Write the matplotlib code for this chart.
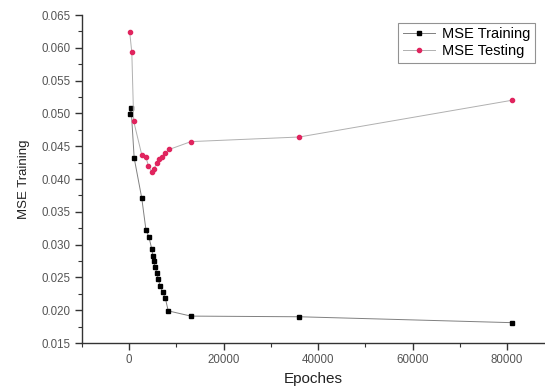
import matplotlib
matplotlib.use("Agg")
import matplotlib.pyplot as plt
from matplotlib.ticker import MultipleLocator

plt.rcParams['font.family'] = ['Liberation Sans', 'DejaVu Sans']

train_epochs = [150, 450, 1100, 2700, 3600, 4200, 4800, 5100, 5300, 5500,
                5900, 6200, 6600, 7100, 7700, 8300, 13100, 36000, 81000]
train_mse = [0.0499, 0.0508, 0.0432, 0.0371, 0.0322, 0.0312, 0.0294, 0.0282,
             0.0275, 0.0266, 0.0257, 0.0247, 0.0237, 0.0228, 0.0218, 0.0199,
             0.0191, 0.0190, 0.0181]

test_epochs = [150, 600, 1000, 2700, 3600, 4100, 4800, 5300, 5900, 6400,
               6900, 7600, 8500, 13100, 36000, 81000]
test_mse = [0.0624, 0.0593, 0.0488, 0.0437, 0.0433, 0.0420, 0.0411, 0.0416,
            0.0424, 0.0430, 0.0434, 0.0439, 0.0445, 0.0457, 0.0464, 0.0520]

fig = plt.figure(figsize=(5.45, 3.86), dpi=100)
ax = fig.add_axes([81.7/545, 1-343/386, 1-81.7/545, (343-15)/386])

ax.plot(train_epochs, train_mse, color='#808080', lw=0.7, marker='s',
        markersize=2.8, markerfacecolor='black', markeredgecolor='black',
        label='MSE Training')
ax.plot(test_epochs, test_mse, color='#b0b0b0', lw=0.7, marker='o',
        markersize=3.0, markerfacecolor='#e0245e', markeredgecolor='#e0245e',
        label='MSE Testing')

ax.set_xlim(-10000, 88000)
ax.set_ylim(0.015, 0.065)
ax.xaxis.set_major_locator(MultipleLocator(20000))
ax.xaxis.set_minor_locator(MultipleLocator(10000))
ax.yaxis.set_major_locator(MultipleLocator(0.005))
ax.yaxis.set_minor_locator(MultipleLocator(0.0025))
ax.yaxis.set_major_formatter(plt.FuncFormatter(lambda v, p: f"{v:.3f}"))

for s in ['top', 'right']:
    ax.spines[s].set_visible(False)
for s in ['left', 'bottom']:
    ax.spines[s].set_linewidth(1.0)
    ax.spines[s].set_color('#333333')

ax.tick_params(which='major', direction='out', length=5, width=1, colors='#333333',
               labelsize=8.3, labelcolor='#555555', pad=3)
ax.tick_params(which='minor', direction='out', length=3, width=0.8, colors='#333333')

ax.set_xlabel('Epoches', fontsize=11, color='#222222', labelpad=4)
ax.set_ylabel('MSE Training', fontsize=9.5, color='#222222', labelpad=8)

leg = ax.legend(loc='upper right', bbox_to_anchor=(0.978, 0.976), fontsize=10.5,
                frameon=True, fancybox=False, handlelength=2.2, borderpad=0.3,
                labelspacing=0.2, handletextpad=0.5, borderaxespad=0)
leg.get_frame().set_edgecolor('#777777')
leg.get_frame().set_linewidth(0.8)

fig.savefig('out.png', dpi=100)
